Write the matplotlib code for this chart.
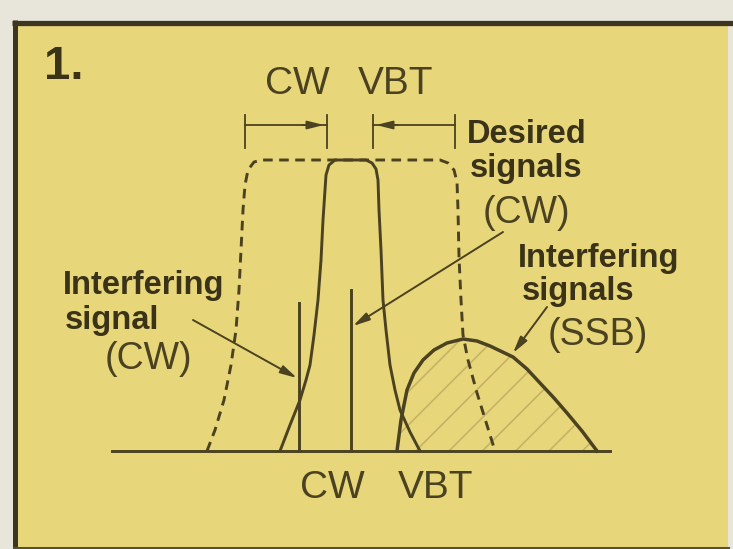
"""Fig. 1 -- CW filter vs VBT passband, redrawn from the magazine scan."""

import matplotlib
matplotlib.use("Agg")
import matplotlib.pyplot as plt
from matplotlib.patches import Polygon, Rectangle

# Diagram geometry (pixel space, y grows downward).
BASE_Y = 451
BASE_X = [112, 610]

# wide VBT passband (dashed)
vbt_x = [207, 215, 224, 231, 236, 239, 241, 243, 245, 248, 254, 262,
         440, 448, 454, 457, 458, 459, 461, 463, 468, 477, 486, 495]
vbt_y = [451, 430, 400, 365, 330, 290, 250, 210, 185, 170, 162, 160,
         160, 163, 170, 182, 210, 257, 300, 335, 360, 393, 422, 451]

# narrow CW filter (solid)
cw_x = [280, 290, 300, 306, 310, 314, 318, 321, 323, 325, 326, 329, 335,
        366, 372, 376, 378, 379, 381, 383, 386, 390, 395, 400, 410, 420]
cw_y = [451, 425, 400, 380, 365, 335, 300, 260, 220, 190, 175, 165, 160,
        160, 163, 169, 180, 210, 250, 300, 330, 365, 390, 410, 432, 451]

# interfering SSB signal hump
ssb_x = [397, 401, 407, 414, 423, 434, 447, 463, 477, 490, 513, 527,
         540, 554, 567, 582, 597]
ssb_y = [451, 420, 390, 373, 360, 350, 343, 339, 341, 346, 357, 369,
         383, 398, 413, 431, 451]

# single-tone carriers: (x, top)
carriers = {"interfering": (299, 303), "desired": (351, 290)}

# top dimension bars: left bar and right bar (x0, x1), ticks
bar_y = 125
bar_left = (245, 327)
bar_right = (373, 455)
tick_top, tick_bottom = 115, 148

# leader lines: (start, arrow tip)
leaders = [
    ((193, 320), (297, 378)),
    ((503, 232), (353, 326)),
    ((547, 307), (513, 353)),
]

# labels: (text, x, baseline y, size, bold)
labels = [
    ("1.", 44, 79, 34, True),
    ("CW", 265, 94, 28, False),
    ("VBT", 358, 94, 28, False),
    ("CW", 300, 498, 28, False),
    ("VBT", 398, 498, 28, False),
    ("Interfering", 63, 294, 23.5, True),
    ("signal", 65, 329, 23.5, True),
    ("(CW)", 105, 369, 27, False),
    ("Desired", 467, 143, 23.5, True),
    ("signals", 470, 177, 23.5, True),
    ("(CW)", 483, 223, 27, False),
    ("Interfering", 518, 267, 23.5, True),
    ("signals", 522, 300, 23.5, True),
    ("(SSB)", 548, 345, 27, False),
]

PAPER = "#e8e6da"
YELLOW = "#e8d67b"
INK = "#4a4220"
INK_BOLD = "#3a3318"

W, H = 733, 549
fig = plt.figure(figsize=(W / 100, H / 100), dpi=100, facecolor=PAPER)
ax = fig.add_axes([0, 0, 1, 1])
ax.set_xlim(0, W)
ax.set_ylim(H, 0)
ax.axis("off")

# panel
ax.add_patch(Rectangle((14, 22), 714, 530, facecolor=YELLOW, edgecolor="none"))
ax.plot([12, W], [22.5, 22.5], color="#3c3620", lw=3.8, solid_capstyle="butt")
ax.plot([14.5, 14.5], [20, H], color="#3c3620", lw=3.6, solid_capstyle="butt")
ax.plot([14, 728], [547.5, 547.5], color="#5a5030", lw=2.2)

lw = 2.1
ax.plot(BASE_X, [BASE_Y, BASE_Y], color=INK, lw=lw)

# SSB hump with faint hatching
plt.rcParams["hatch.linewidth"] = 1.2
ax.add_patch(Polygon(list(zip(ssb_x, ssb_y)), closed=True, facecolor="none",
                     edgecolor="#c6b466", lw=0, hatch="/"))
ax.plot(ssb_x, ssb_y, color=INK, lw=lw + 0.4)

ax.plot(vbt_x, vbt_y, color=INK, lw=lw, ls=(0, (3.3, 2.2)))
ax.plot(cw_x, cw_y, color=INK, lw=lw)

for x, top in carriers.values():
    ax.plot([x, x], [top, BASE_Y], color=INK, lw=lw)

# dimension bars
for x in (*bar_left, *bar_right):
    ax.plot([x, x], [tick_top, tick_bottom], color=INK, lw=1.3)
ax.plot(bar_left, [bar_y, bar_y], color=INK, lw=1.3)
ax.plot(bar_right, [bar_y, bar_y], color=INK, lw=1.3)
arrow = dict(arrowstyle="-|>,head_length=1.0,head_width=0.25", color=INK,
             lw=1.3, shrinkA=0, shrinkB=0)
ax.annotate("", xy=(bar_left[1] - 3, bar_y), xytext=(bar_left[1] - 25, bar_y),
            arrowprops=arrow)
ax.annotate("", xy=(bar_right[0] + 3, bar_y), xytext=(bar_right[0] + 25, bar_y),
            arrowprops=arrow)

lead = dict(arrowstyle="-|>,head_length=1.0,head_width=0.25", color=INK,
            lw=1.4, shrinkA=0, shrinkB=0)
for start, tip in leaders:
    ax.annotate("", xy=tip, xytext=start, arrowprops=lead)

for text, x, y, size, bold in labels:
    ax.text(x, y, text, ha="left", va="baseline", fontsize=size,
            family="Liberation Sans", fontweight="bold" if bold else "normal",
            color=INK_BOLD if bold else INK)

fig.savefig("out.png", dpi=100, facecolor=PAPER)
